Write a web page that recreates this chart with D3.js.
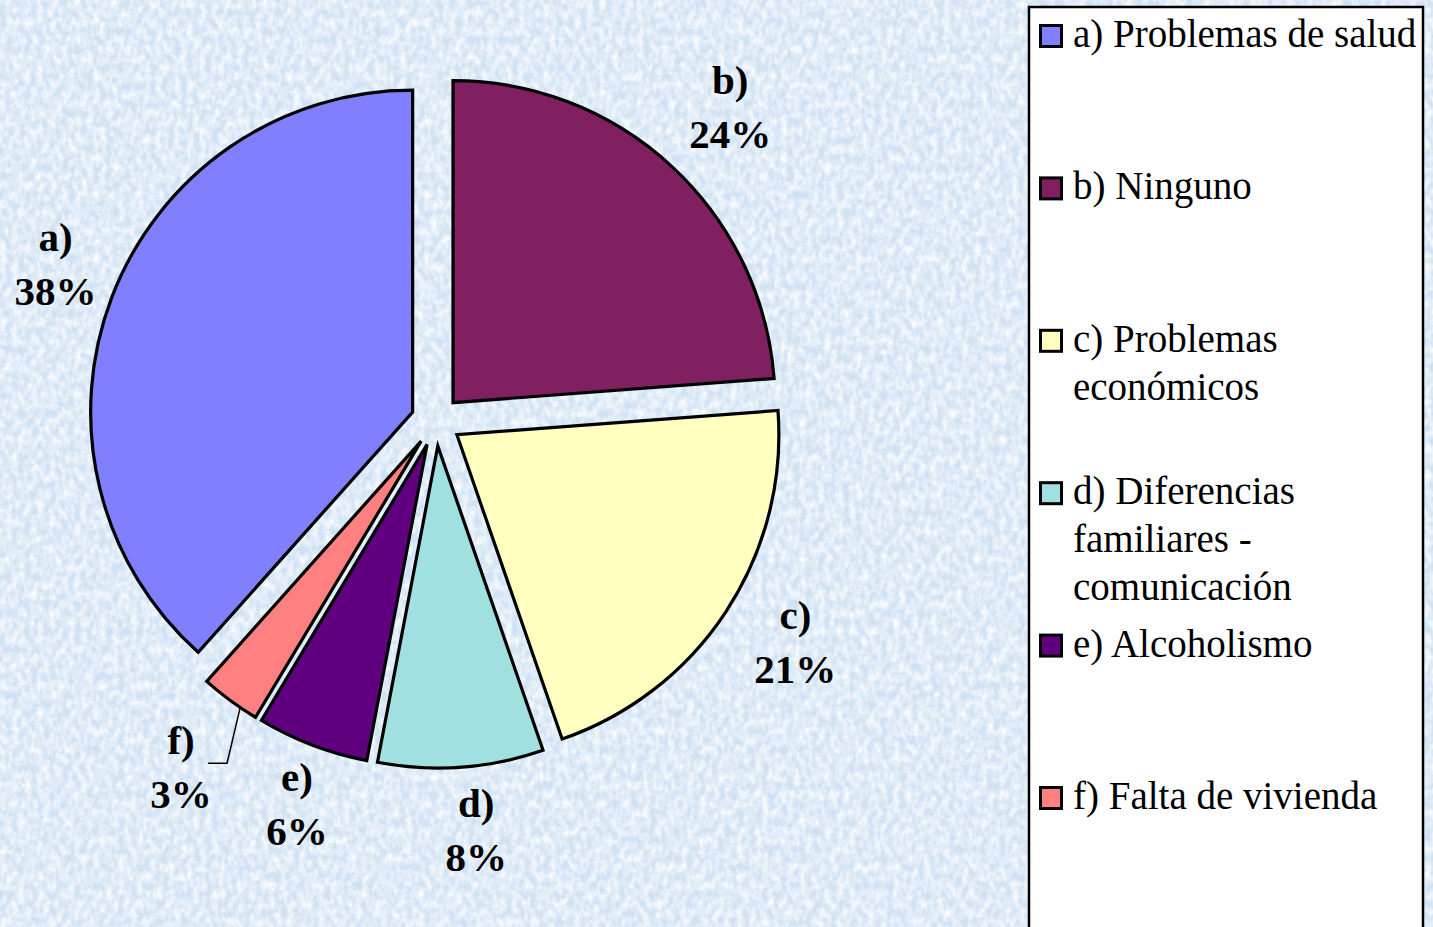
<!DOCTYPE html>
<html>
<head>
<meta charset="utf-8">
<script src="https://cdn.jsdelivr.net/npm/d3@7"></script>
<style>
  body { margin: 0; overflow: hidden; }
</style>
</head>
<body>
<div id="chart"></div>
<script>
// data
const categories = ["a)", "b)", "c)", "d)", "e)", "f)"];
const legendLines = [
    ["Problemas de salud"],
    ["Ninguno"],
    ["Problemas", "económicos"],
    ["Diferencias", "familiares -", "comunicación"],
    ["Alcoholismo"],
    ["Falta de vivienda"]
];
const shares = [38.4, 23.8, 20.9, 8.3, 5.6, 3.0];
const colors = ["#8080ff", "#802060", "#ffffc0", "#a0e0e0", "#600080", "#ff8080"];

const W = 1433, H = 927;
const cx = 436, cy = 421, radius = 322, explode = 25;
const labelRadius = 418, labelShiftX = 10, labelShiftY = -8, leaderRadius = 430;
const serif = "'Liberation Serif', 'Times New Roman', Times, serif";

var svg = d3.select("#chart")
    .append("svg")
    .attr("width", W)
    .attr("height", H);

// textured light blue background
var filter = svg.append("defs").append("filter")
    .attr("id", "tex")
    .attr("x", 0).attr("y", 0).attr("width", 1).attr("height", 1);
filter.append("feTurbulence")
    .attr("type", "fractalNoise")
    .attr("baseFrequency", "0.16 0.11")
    .attr("numOctaves", 3)
    .attr("seed", 11);
filter.append("feColorMatrix")
    .attr("type", "matrix")
    .attr("values", "0 0 0 0 1  0 0 0 0 1  0 0 0 0 1  0 0 0 1.6 -0.45");

svg.append("rect")
    .attr("width", W).attr("height", H)
    .attr("fill", "#cfe1f3");
svg.append("rect")
    .attr("width", W).attr("height", H)
    .attr("filter", "url(#tex)");

// pie: b) starts at 12 o'clock, so a) ends there
var total = d3.sum(shares);
var start = -2 * Math.PI * shares[0] / total;
var pie = d3.pie()
    .sort(null)
    .startAngle(start)
    .endAngle(start + 2 * Math.PI);
var arcs = pie(shares);

var arc = d3.arc().innerRadius(0).outerRadius(radius);
var mid = d => (d.startAngle + d.endAngle) / 2;

var chart = svg.append("g").attr("transform", "translate(" + cx + "," + cy + ")");

chart.selectAll("path.slice")
    .data(arcs)
    .enter()
    .append("path")
    .attr("class", "slice")
    .attr("transform", d => "translate(" + Math.sin(mid(d)) * explode + "," + (-Math.cos(mid(d)) * explode) + ")")
    .attr("d", arc)
    .style("fill", (d, i) => colors[i])
    .style("stroke", "black")
    .style("stroke-width", 3.2)
    .style("stroke-linejoin", "miter");

// the smallest slice gets its label pulled out with a leader line
var leaderIndex = shares.indexOf(d3.min(shares));

function labelPos(d, i) {
    if (i == leaderIndex) {
        return [Math.sin(mid(d)) * leaderRadius, -Math.cos(mid(d)) * leaderRadius];
    }
    return [labelShiftX + Math.sin(mid(d)) * labelRadius, labelShiftY - Math.cos(mid(d)) * labelRadius];
}

var labels = chart.selectAll("text.label")
    .data(arcs)
    .enter()
    .append("text")
    .attr("class", "label")
    .attr("text-anchor", "middle")
    .attr("font-family", serif)
    .attr("font-weight", "bold")
    .attr("font-size", 41)
    .attr("fill", "black");

labels.each(function (d, i) {
    var p = labelPos(d, i);
    var t = d3.select(this);
    t.append("tspan").attr("x", p[0]).attr("y", p[1] - 13).text(categories[i]);
    t.append("tspan").attr("x", p[0]).attr("y", p[1] + 41).text(Math.round(shares[i] / total * 100) + "%");
});

var fa = arcs[leaderIndex];
var fm = mid(fa) - 0.2 * (fa.endAngle - fa.startAngle);
var p0 = [Math.sin(mid(fa)) * explode + Math.sin(fm) * radius, -Math.cos(mid(fa)) * explode - Math.cos(fm) * radius];
var lp = labelPos(fa, leaderIndex);
chart.append("polyline")
    .attr("points", [p0, [lp[0] + 46, lp[1] - 4], [lp[0] + 27, lp[1] - 4]].map(p => p.join(",")).join(" "))
    .style("fill", "none")
    .style("stroke", "black")
    .style("stroke-width", 1.5);

// legend
var legend = svg.append("g");
legend.append("rect")
    .attr("x", 1029).attr("y", 7)
    .attr("width", 394).attr("height", 960)
    .style("fill", "white")
    .style("stroke", "black")
    .style("stroke-width", 2.5);

var legendY = d3.scaleLinear().domain([0, 1]).range([47, 47 + 152.4]);

categories.forEach((c, i) => {
    var y = legendY(i);
    legend.append("rect")
        .attr("x", 1040.5).attr("y", y - 21.5)
        .attr("width", 21).attr("height", 21)
        .style("fill", colors[i])
        .style("stroke", "black")
        .style("stroke-width", 3);
    var t = legend.append("text")
        .attr("font-family", serif)
        .attr("font-size", 39)
        .attr("fill", "black");
    legendLines[i].forEach((line, j) => {
        t.append("tspan")
            .attr("x", 1073)
            .attr("y", y + j * 48)
            .text(j == 0 ? c + " " + line : line);
    });
});
</script>
</body>
</html>
